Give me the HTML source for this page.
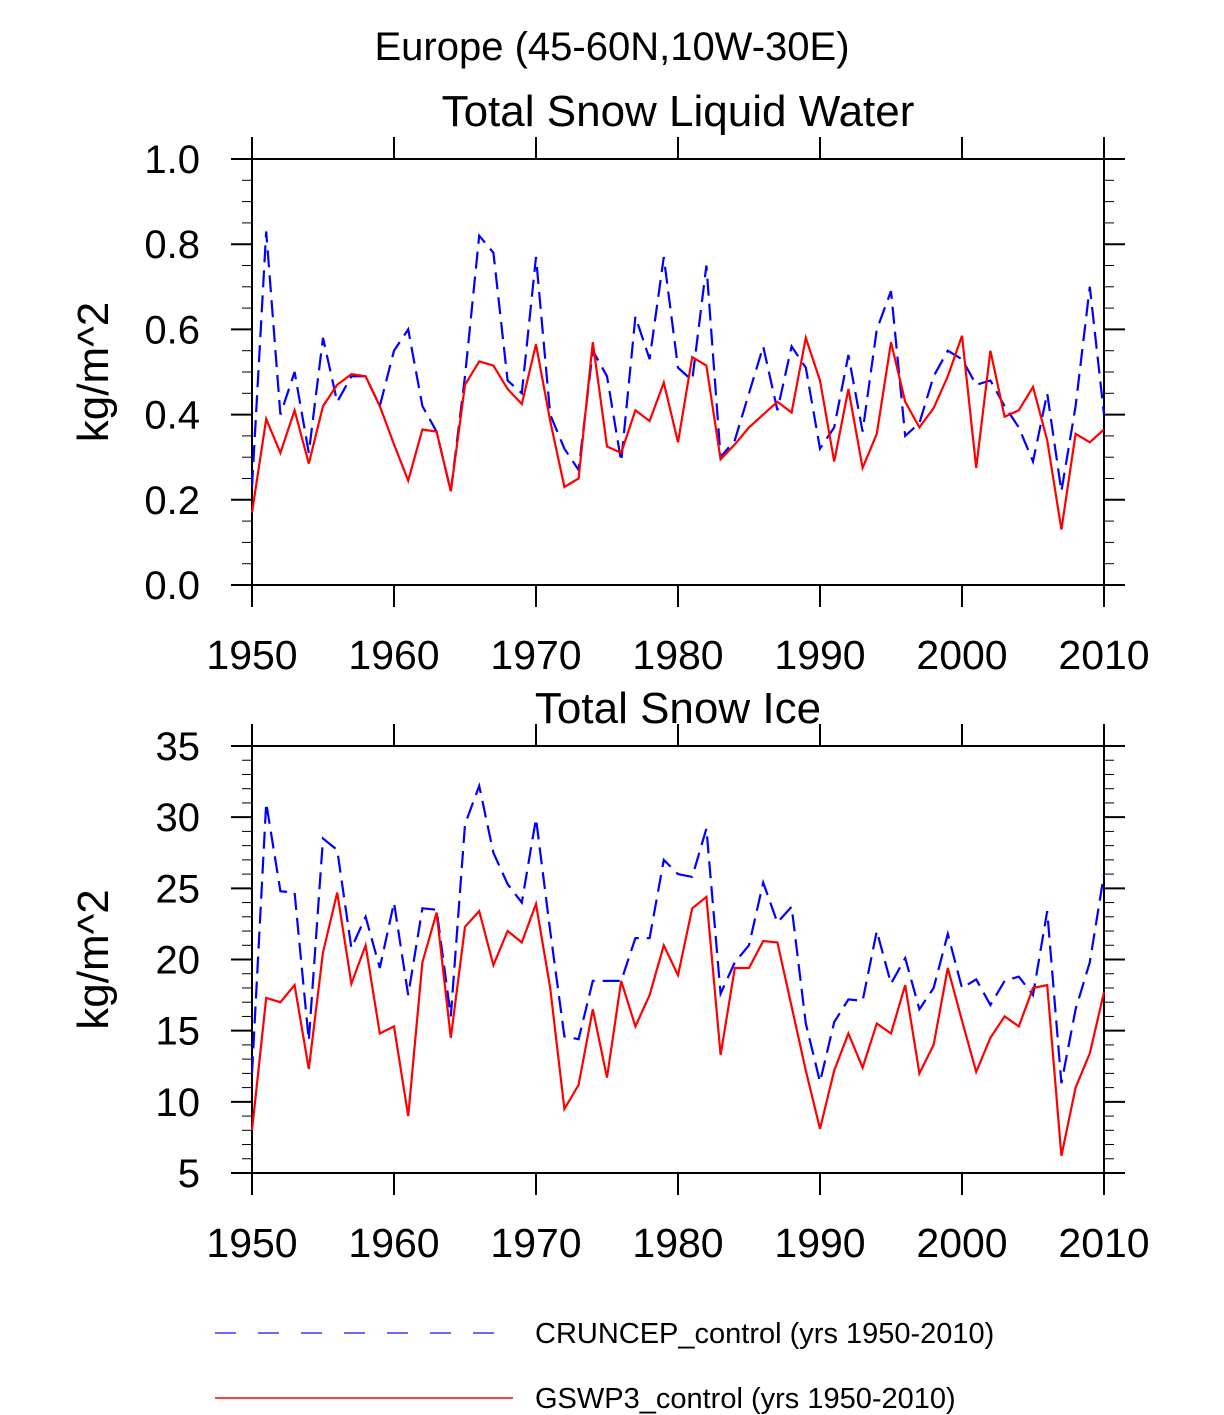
<!DOCTYPE html>
<html><head><meta charset="utf-8"><style>
html,body{margin:0;padding:0;background:#fff;}
svg{display:block;font-family:"Liberation Sans",Arial,sans-serif;}
</style></head><body>
<svg id="chart" width="1224" height="1415" viewBox="0 0 1224 1415" xmlns="http://www.w3.org/2000/svg">
<text x="612" y="60" font-size="40" text-anchor="middle">Europe (45-60N,10W-30E)</text>
<text x="678" y="126" font-size="44" text-anchor="middle">Total Snow Liquid Water</text>
<text x="678" y="723" font-size="44" text-anchor="middle">Total Snow Ice</text>
<g id="p1"></g>
<g id="p2"></g>
<g>
<line x1="215" y1="1333" x2="500" y2="1333" stroke="#6a6aff" stroke-width="2" stroke-dasharray="21,22"/>
<text x="535" y="1343" font-size="29">CRUNCEP_control (yrs 1950-2010)</text>
<line x1="215" y1="1398" x2="513" y2="1398" stroke="#ff4040" stroke-width="2"/>
<text x="535" y="1408" font-size="29">GSWP3_control (yrs 1950-2010)</text>
</g>
</svg>
<script>
const years = [];
for (let y = 1950; y <= 2010; y++) years.push(y);
const xTickLabels = ["1950","1960","1970","1980","1990","2000","2010"];
const lwRed = [0.17,0.39,0.31,0.41,0.285,0.42,0.47,0.495,0.49,0.42,0.33,0.245,0.365,0.36,0.22,0.47,0.525,0.515,0.46,0.425,0.565,0.385,0.23,0.25,0.57,0.325,0.31,0.41,0.385,0.475,0.335,0.535,0.515,0.295,0.33,0.37,0.40,0.43,0.405,0.58,0.48,0.29,0.46,0.275,0.355,0.57,0.43,0.37,0.415,0.49,0.585,0.275,0.55,0.395,0.41,0.465,0.34,0.13,0.355,0.335,0.365];
const lwBlue = [0.23,0.83,0.40,0.50,0.31,0.58,0.43,0.49,0.49,0.42,0.55,0.60,0.42,0.36,0.22,0.49,0.82,0.78,0.48,0.45,0.77,0.40,0.32,0.27,0.55,0.49,0.29,0.63,0.53,0.77,0.51,0.48,0.75,0.30,0.34,0.45,0.56,0.41,0.56,0.51,0.32,0.37,0.54,0.36,0.60,0.69,0.35,0.38,0.49,0.55,0.53,0.47,0.48,0.42,0.37,0.29,0.45,0.22,0.42,0.70,0.40];
const iceRed = [8,17.3,17,18.2,12.3,20.5,24.7,18.3,21,14.8,15.3,9,19.8,23.3,14.5,22.3,23.4,19.6,22,21.2,23.9,18,9.5,11.2,16.5,11.7,18.5,15.3,17.5,21,18.9,23.6,24.4,13.3,19.4,19.4,21.3,21.2,16.7,12.2,8.1,12.2,14.8,12.4,15.5,14.8,18.2,12,14,19.4,15.7,12.1,14.5,16,15.3,18,18.2,6.2,11,13.4,17.7];
const iceBlue = [12,31,24.8,24.7,14.3,28.5,27.7,20.8,23,19.4,24,17.5,23.6,23.5,16,29.5,32.2,27.5,25.3,24,29.9,22,14.6,14.4,18.5,18.5,18.5,21.5,21.5,27,26,25.8,29.2,17.6,19.8,21,25.4,22.6,23.7,15.5,11.4,15.6,17.2,17.1,22,18.3,20.1,16.5,18,21.8,18,18.6,16.8,18.5,18.8,17.5,23.4,11.3,16.5,19.8,26];
const lwTicks = ["0.0","0.2","0.4","0.6","0.8","1.0"];
const iceTicks = ["5","10","15","20","25","30","35"];

const NS = "http://www.w3.org/2000/svg";
function mk(tag, attrs, parent){const e=document.createElementNS(NS,tag);for(const k in attrs)e.setAttribute(k,attrs[k]);parent.appendChild(e);return e;}

function panel(g, top, bottom, ymin, ymax, yTicks, minorStep, red, blue, key){
  const L=252, R=1104;
  const xs = v => L + (v-1950)/(60)*(R-L);
  const ys = v => bottom - (v-ymin)/(ymax-ymin)*(bottom-top);
  const box = mk('rect',{x:L,y:top,width:R-L,height:bottom-top,fill:'none',stroke:'#000','stroke-width':2},g);
  
  
  for(let v=ymin; v<=ymax+1e-9; v+=minorStep){
    const y=ys(v);
    mk('line',{x1:L-10,y1:y,x2:L,y2:y,stroke:'#000','stroke-width':1},g);
    mk('line',{x1:R,y1:y,x2:R+10,y2:y,stroke:'#000','stroke-width':1},g);
  }
  yTicks.forEach(t=>{
    const y=ys(parseFloat(t));
    mk('line',{x1:L-21,y1:y,x2:L,y2:y,stroke:'#000','stroke-width':2},g);
    mk('line',{x1:R,y1:y,x2:R+21,y2:y,stroke:'#000','stroke-width':2},g);
    const tx=mk('text',{x:L-52,y:y+14,'font-size':40,'text-anchor':'end'},g);
    tx.textContent=t;
    
    
  });
  xTickLabels.forEach(t=>{
    const x=xs(parseFloat(t));
    mk('line',{x1:x,y1:bottom,x2:x,y2:bottom+22,stroke:'#000','stroke-width':2},g);
    mk('line',{x1:x,y1:top-22,x2:x,y2:top,stroke:'#000','stroke-width':2},g);
    const tx=mk('text',{x:x,y:bottom+84,'font-size':41,'text-anchor':'middle'},g);
    tx.textContent=t;
    
    
  });
  const cy=(top+bottom)/2;
  const yt=mk('text',{x:0,y:0,'font-size':44,'text-anchor':'middle',transform:`translate(108,${cy}) rotate(-90)`},g);
  yt.textContent='kg/m^2';
  
  
  const ptsB=years.map((yr,i)=>xs(yr).toFixed(1)+','+ys(blue[i]).toFixed(1)).join(' ');
  const pb=mk('polyline',{points:ptsB,fill:'none',stroke:'#0000ff','stroke-width':2.2,'stroke-dasharray':'17,8'},g);
  
  
  const ptsR=years.map((yr,i)=>xs(yr).toFixed(1)+','+ys(red[i]).toFixed(1)).join(' ');
  const pr=mk('polyline',{points:ptsR,fill:'none',stroke:'#ff0000','stroke-width':2.2},g);
  
  
}
panel(document.getElementById('p1'),159,585,0,1,lwTicks,0.05,lwRed,lwBlue,'liquid');
panel(document.getElementById('p2'),746,1173,5,35,iceTicks,1,iceRed,iceBlue,'ice');
</script>
</body></html>
